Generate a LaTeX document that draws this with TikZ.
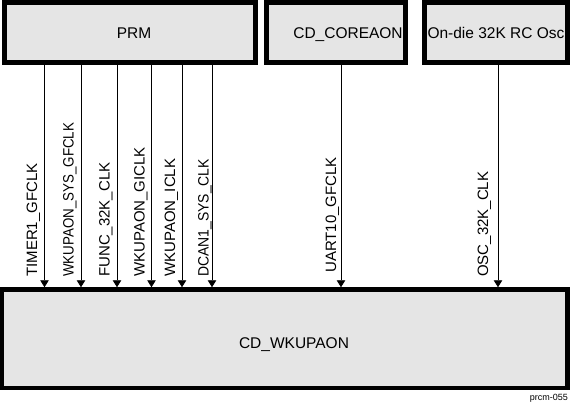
\documentclass[tikz,border=0pt]{standalone}
\usepackage{fontspec}
\setmainfont{Liberation Sans}
\usetikzlibrary{arrows.meta}
\definecolor{boxgray}{RGB}{229,229,229}
\begin{document}
\begin{tikzpicture}[x=1pt,y=-1pt,
  topbox/.style={draw=black, fill=boxgray, line width=5pt, rectangle, inner sep=0pt},
  botbox/.style={draw=black, fill=boxgray, line width=4.5pt, rectangle, inner sep=0pt},
  title/.style={font=\fontsize{15.5}{18}\selectfont, inner sep=0pt, anchor=base},
  lbl/.style={font=\fontsize{15}{18}\selectfont, inner sep=0pt, anchor=base west, rotate=90},
  sig/.style={draw=black, line width=0.8pt, -{Triangle[width=8.5pt,length=7pt]}}
]
\useasboundingbox (0,0) rectangle (570,404);

% boxes
\node[topbox, minimum width=251.5pt, minimum height=60pt] (prm) at (129.75,32.5) {};
\node[topbox, minimum width=139.5pt, minimum height=60pt] (core) at (335.75,32.5) {};
\node[topbox, minimum width=143.5pt, minimum height=60pt] (osc) at (495.75,32.5) {};
\node[botbox, minimum width=565.5pt, minimum height=98.5pt] (wk) at (284.75,338.75) {};

% box titles
\node[title] (tprm) at (134,39) {PRM};
\node[title] (tcore) at (348,39) {CD\_COREAON};
\node[title] (tosc) at (496,39) {On-die 32K RC Osc};
\node[title] (twk) at (294,348) {CD\_WKUPAON};
\node[font=\fontsize{9}{10}\selectfont, inner sep=0pt, anchor=base east] (fig) at (568,400) {prcm-055};

% x positions of the signal lines
\coordinate (x1) at (44.5,0);
\coordinate (x2) at (81,0);
\coordinate (x3) at (117,0);
\coordinate (x4) at (151.5,0);
\coordinate (x5) at (182,0);
\coordinate (x6) at (212,0);
\coordinate (x7) at (341,0);
\coordinate (x8) at (498,0);

% connectors
\draw[sig] (prm.south -| x1) -- (wk.north -| x1);
\draw[sig] (prm.south -| x2) -- (wk.north -| x2);
\draw[sig] (prm.south -| x3) -- (wk.north -| x3);
\draw[sig] (prm.south -| x4) -- (wk.north -| x4);
\draw[sig] (prm.south -| x5) -- (wk.north -| x5);
\draw[sig] (prm.south -| x6) -- (wk.north -| x6);
\draw[sig] (core.south -| x7) -- (wk.north -| x7);
\draw[sig] (osc.south -| x8) -- (wk.north -| x8);

% signal labels
\node[lbl] (l1) at (37,277) {TIMER1\_GFCLK};
\node[lbl] (l2) at (73.5,277) {\scalebox{0.89}[1]{WKUPAON\_SYS\_GFCLK}};
\node[lbl] (l3) at (109.5,277) {FUNC\_32K\_CLK};
\node[lbl] (l4) at (144.5,277) {WKUPAON\_GICLK};
\node[lbl] (l5) at (175,277) {WKUPAON\_ICLK};
\node[lbl] (l6) at (208.5,277) {\scalebox{0.93}[1]{DCAN1\_SYS\_CLK}};
\node[lbl] (l7) at (336,273) {UART10\_GFCLK};
\node[lbl] (l8) at (488,277) {OSC\_32K\_CLK};
\end{tikzpicture}
\end{document}
